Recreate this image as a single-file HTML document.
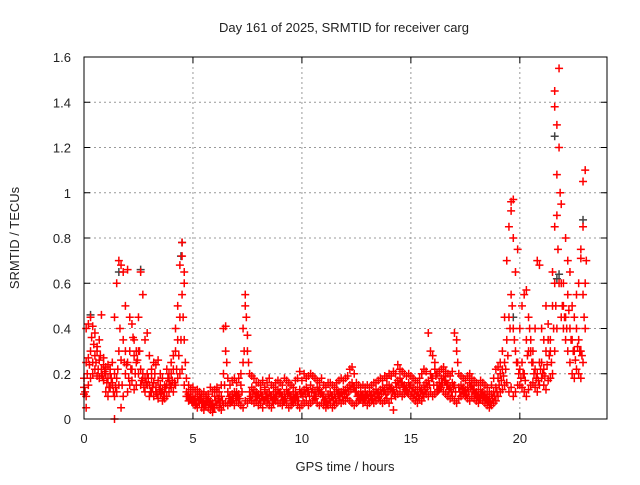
<!DOCTYPE html>
<html><head><meta charset="utf-8"><style>
body{margin:0;background:#fff;}
svg{font-family:"Liberation Sans",sans-serif;font-size:13px;}
</style></head><body>
<svg id="chart" width="640" height="480" viewBox="0 0 640 480">
<rect width="640" height="480" fill="#fff"/>
<text x="344" y="32" text-anchor="middle" fill="#222">Day 161 of 2025, SRMTID for receiver carg</text>
<text transform="translate(19,238) rotate(-90)" text-anchor="middle" fill="#222">SRMTID / TECUs</text>
<text x="345" y="471" text-anchor="middle" fill="#222">GPS time / hours</text>
<g id="grid"></g><g id="ticks"></g><g id="marks"></g>
<rect x="84" y="57" width="523" height="362" fill="none" stroke="#000" stroke-width="1"/>
</svg>
<script>
const xTicks=[0,5,10,15,20];
const yTicks=[0,0.2,0.4,0.6,0.8,1,1.2,1.4,1.6];
const yTickLabels=["0","0.2","0.4","0.6","0.8","1","1.2","1.4","1.6"];
const t0=0, dt=0.1;
const lowSeries=[.11,.10,.15,.18,.20,.22,.19,.18,.20,.17,.12,.10,.14,.15,.10,.12,.15,.05,.10,.20,.12,.15,.17,.13,.15,.20,.15,.18,.12,.15,.10,.12,.10,.12,.09,.11,.08,.09,.10,.12,.14,.12,.15,.18,.20,.22,.15,.10,.08,.09,.07,.06,.05,.07,.05,.04,.06,.05,.04,.03,.05,.06,.05,.04,.06,.07,.06,.07,.08,.06,.08,.07,.06,.05,.08,.07,.09,.08,.07,.08,.06,.07,.05,.08,.07,.06,.05,.07,.08,.07,.07,.06,.08,.07,.05,.06,.07,.08,.06,.05,.06,.07,.08,.06,.07,.08,.09,.07,.06,.07,.06,.05,.06,.07,.05,.06,.07,.08,.07,.08,.08,.09,.08,.07,.06,.07,.08,.09,.07,.08,.06,.07,.08,.07,.08,.09,.08,.07,.08,.09,.07,.09,.04,.10,.11,.12,.10,.11,.12,.11,.10,.09,.08,.07,.09,.08,.10,.11,.10,.12,.10,.11,.12,.13,.14,.12,.11,.10,.09,.10,.08,.07,.09,.10,.11,.10,.09,.08,.10,.09,.08,.07,.09,.08,.07,.06,.05,.06,.07,.08,.10,.12,.13,.15,.16,.12,.14,.10,.12,.15,.15,.14,.12,.10,.13,.15,.16,.14,.12,.15,.18,.15,.13,.17,.18,.20,.30,.40,.60,.45,.40,.35,.30,.25,.20,.18,.22,.20,.18,.25,.40];
const midSeries=[.14,.25,.27,.30,.25,.28,.30,.26,.22,.24,.20,.18,.22,.16,.20,.18,.30,.26,.35,.30,.25,.30,.22,.28,.25,.30,.22,.20,.18,.20,.15,.18,.16,.14,.17,.15,.13,.12,.15,.17,.20,.22,.30,.35,.45,.55,.35,.12,.11,.10,.10,.09,.10,.11,.09,.08,.10,.09,.08,.07,.10,.12,.09,.10,.20,.30,.12,.10,.11,.12,.12,.11,.15,.25,.50,.30,.12,.14,.13,.12,.11,.12,.10,.13,.11,.12,.10,.11,.12,.13,.12,.10,.11,.13,.12,.10,.11,.12,.10,.13,.12,.13,.14,.12,.15,.13,.12,.14,.13,.12,.10,.09,.11,.12,.10,.11,.13,.12,.12,.13,.13,.14,.15,.16,.14,.12,.11,.12,.11,.12,.11,.12,.11,.12,.13,.12,.13,.14,.13,.15,.15,.14,.13,.16,.17,.18,.16,.15,.14,.16,.15,.14,.13,.12,.14,.13,.15,.16,.17,.20,.18,.22,.15,.16,.18,.19,.17,.15,.14,.16,.15,.30,.14,.15,.14,.13,.14,.16,.15,.13,.12,.11,.13,.12,.11,.10,.09,.11,.12,.14,.18,.20,.22,.25,.35,.45,.55,.40,.30,.25,.22,.25,.20,.35,.45,.30,.25,.22,.20,.25,.25,.22,.30,.35,.30,.50,.60,.90,1.20,.60,.50,.45,.55,.40,.35,.30,.40,.35,.30,.55,.60];
const highSeries=[.18,.40,.42,.45,.41,.38,.32,.35,.46,.27,.23,.24,.20,.25,.45,.60,.70,.68,.65,.50,.66,.45,.42,.35,.30,.45,.65,.55,.35,.38,.28,.22,.25,.24,.26,.20,.18,.15,.22,.20,.25,.28,.40,.50,.68,.78,.60,.18,.15,.13,.14,.12,.13,.12,.11,.12,.10,.11,.14,.12,.13,.14,.12,.15,.40,.41,.18,.15,.17,.18,.16,.18,.20,.40,.55,.37,.20,.19,.18,.16,.16,.15,.17,.14,.16,.18,.15,.14,.16,.17,.16,.15,.18,.17,.16,.15,.14,.17,.18,.21,.17,.20,.18,.19,.20,.19,.18,.17,.16,.18,.15,.14,.16,.16,.15,.14,.16,.17,.18,.17,.18,.19,.22,.23,.20,.16,.15,.14,.15,.14,.15,.14,.15,.16,.16,.17,.18,.17,.19,.18,.20,.19,.21,.20,.24,.22,.21,.20,.19,.20,.19,.18,.17,.16,.18,.20,.22,.21,.38,.30,.28,.25,.20,.21,.22,.23,.21,.20,.19,.21,.38,.35,.20,.19,.18,.17,.19,.20,.18,.17,.16,.15,.17,.16,.15,.14,.12,.15,.18,.22,.23,.25,.30,.45,.70,.85,.96,.80,.65,.75,.40,.50,.55,.57,.30,.35,.30,.40,.70,.68,.40,.35,.50,.42,.35,.65,.85,1.30,1.55,.95,.60,.80,.70,.65,.50,.45,.55,.60,.75,.85,1.10];
const halfSeries=[.12,.20,.24,.36,.33,.25,.22,.28,.19,.21,.16,.14,.18,.12,.14,.22,.40,.15,.25,.24,.18,.22,.36,.20,.26,.30,.17,.14,.16,.18,.12,.14,.20,.11,.13,.12,.10,.14,.18,.15,.17,.16,.22,.28,.35,.45,.25,.10,.09,.08,.08,.07,.08,.09,.07,.06,.08,.07,.06,.05,.08,.09,.07,.08,.15,.25,.09,.08,.09,.10,.10,.09,.12,.30,.45,.25,.10,.11,.10,.10,.09,.10,.08,.10,.09,.10,.08,.09,.10,.11,.10,.08,.09,.11,.10,.08,.09,.10,.08,.11,.10,.11,.12,.10,.12,.10,.10,.12,.11,.10,.08,.07,.09,.10,.08,.09,.11,.10,.10,.11,.11,.12,.13,.14,.12,.10,.09,.10,.09,.10,.09,.10,.09,.10,.11,.10,.11,.12,.11,.12,.13,.12,.11,.14,.15,.16,.14,.13,.12,.14,.12,.11,.10,.10,.12,.11,.13,.14,.15,.18,.15,.19,.13,.14,.16,.17,.15,.13,.12,.14,.12,.25,.12,.13,.12,.11,.12,.14,.13,.11,.10,.09,.11,.10,.09,.08,.07,.09,.10,.12,.15,.17,.19,.22,.28,.40,.50,.35,.25,.20,.18,.20,.17,.28,.40,.25,.20,.18,.17,.22,.20,.19,.24,.28,.25,.40,.50,.75,1.00,.50,.45,.40,.48,.35,.30,.26,.32,.30,.28,.45,.70];
const extraX=[1.4,4.5,4.6,21.6,21.6,21.7,22.9,19.6,19.7,22.8,0.1];
const extraY=[0,0.72,0.65,1.45,1.38,1.08,1.05,0.92,0.97,0.71,0.05];
const grayX=[4.5,4.45,21.6,21.7,1.6,0.3,19.7,22.9,21.8,2.6];
const grayY=[0.78,0.72,1.25,0.62,0.65,0.46,0.45,0.88,0.64,0.66];

const NS="http://www.w3.org/2000/svg";
const X0=84,X1=607,Y0=419,Y1=57,XMAX=24,YMAX=1.6;
function sx(v){return X0+(X1-X0)*v/XMAX;}
function sy(v){return Y0-(Y0-Y1)*v/YMAX;}
function mk(tag,attrs,parent){const e=document.createElementNS(NS,tag);for(const k in attrs)e.setAttribute(k,attrs[k]);parent.appendChild(e);return e;}
const grid=document.getElementById('grid'),ticks=document.getElementById('ticks'),marks=document.getElementById('marks');
xTicks.forEach((v,i)=>{
  const x=sx(v);
  if(v>0){const g=mk('line',{x1:x,x2:x,y1:Y0,y2:Y1,stroke:'#999','stroke-dasharray':'2,3'},grid);
  
  }
  mk('line',{x1:x,x2:x,y1:Y0,y2:Y0-6,stroke:'#000'},ticks);
  mk('line',{x1:x,x2:x,y1:Y1,y2:Y1+6,stroke:'#000'},ticks);
  const t=mk('text',{x:x,y:Y0+24,'text-anchor':'middle',fill:'#222'},ticks);
  t.textContent=String(v);
  
  
});
yTicks.forEach((v,i)=>{
  const y=sy(v);
  if(v>0&&v<YMAX){const g=mk('line',{x1:X0,x2:X1,y1:y,y2:y,stroke:'#999','stroke-dasharray':'2,3'},grid);
  
  }
  mk('line',{x1:X0,x2:X0+6,y1:y,y2:y,stroke:'#000'},ticks);
  mk('line',{x1:X1,x2:X1-6,y1:y,y2:y,stroke:'#000'},ticks);
  const t=mk('text',{x:X0-13,y:y+5,'text-anchor':'end',fill:'#222'},ticks);
  t.textContent=yTickLabels[i];
  
  
});
function cross(xv,yv,color){
  const x=sx(xv),y=sy(yv);
  const p=mk('path',{d:`M${x-4},${y}H${x+4}M${x},${y-4}V${y+4}`,stroke:color,'stroke-width':1.5,fill:'none'},marks);
  
  
}
for(let i=0;i<grayX.length;i++)cross(grayX[i],grayY[i],'#444');
[lowSeries,midSeries,highSeries].forEach(s=>s.forEach((v,i)=>cross(t0+i*dt,v,'#f00')));
halfSeries.forEach((v,i)=>cross(t0+dt/2+i*dt,v,'#f00'));
for(let i=0;i<extraX.length;i++)cross(extraX[i],extraY[i],'#f00');
</script>
</body></html>
